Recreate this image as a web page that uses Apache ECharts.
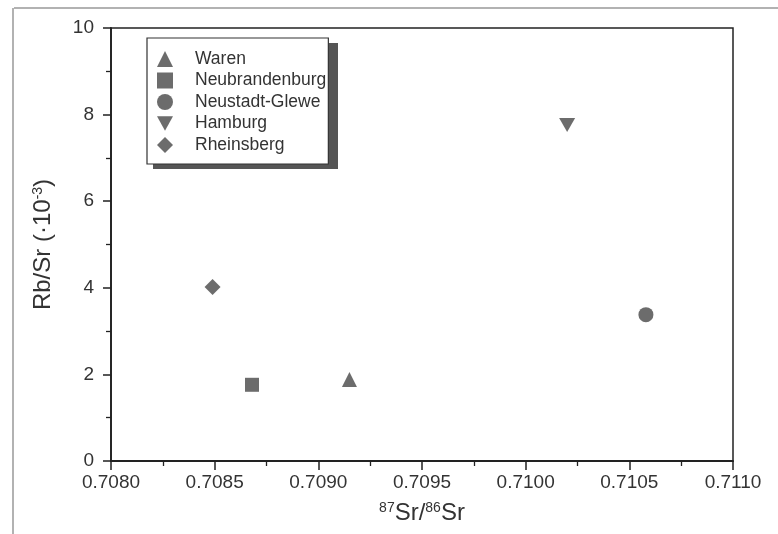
<!DOCTYPE html>
<html><head><meta charset="utf-8">
<script src="https://cdn.jsdelivr.net/npm/echarts@6/dist/echarts.min.js"></script>
<style>html,body{margin:0;padding:0;background:#fff}#c{width:778px;height:534px}</style>
</head><body><div id="c"></div>
<script>
const seriesNames = ['Waren', 'Neubrandenburg', 'Neustadt-Glewe', 'Hamburg', 'Rheinsberg'];
const srRatio = [0.70915, 0.70868, 0.71058, 0.71020, 0.70849];
const rbSr = [1.88, 1.76, 3.38, 7.76, 4.02];
const symbols = ['triangle', 'rect', 'circle', 'path://M0,0 L10,0 L5,9 Z', 'diamond'];
const symbolSizes = [15, 14, 15, [16, 14], 16];
const xTicks = ['0.7080','0.7085','0.7090','0.7095','0.7100','0.7105','0.7110'];
const yTicks = [0, 2, 4, 6, 8, 10];

const chart = echarts.init(document.getElementById('c'));
const font = 'Liberation Sans, Arial, sans-serif';
const markColor = '#474747';
const series = seriesNames.map((n, i) => ({
  name: n, type: 'scatter', symbol: symbols[i], symbolSize: symbolSizes[i],
  itemStyle: { color: markColor }, data: [[srRatio[i], rbSr[i]]], z: 3
}));
const supStyle = { fontSize: 14, color: '#333', verticalAlign: 'top', padding: [0, 0, 10, 0], fontFamily: font };
chart.setOption({
  animation: false,
  textStyle: { fontFamily: font },
  grid: { left: 111, right: 45, top: 28, bottom: 73, show: true, borderColor: '#222', borderWidth: 1.5 },
  xAxis: {
    type: 'value', min: 0.7080, max: 0.7110, interval: 0.0005,
    axisLine: { lineStyle: { color: '#222', width: 1.8 } },
    axisTick: { inside: false, length: 9, lineStyle: { color: '#222', width: 1.5 } },
    minorTick: { show: true, splitNumber: 2, length: 5, lineStyle: { color: '#222', width: 1.3 } },
    splitLine: { show: false },
    axisLabel: { color: '#333', fontSize: 19, margin: 12, formatter: v => xTicks[Math.round((v - 0.7080) / 0.0005)] },
    name: '{sup|87}{m|Sr/}{sup|86}{m|Sr}', nameLocation: 'middle', nameGap: 40,
    nameTextStyle: { rich: { m: { fontSize: 24, color: '#333', fontFamily: font }, sup: supStyle } }
  },
  yAxis: {
    type: 'value', min: 0, max: 10, interval: 2,
    axisLine: { lineStyle: { color: '#222', width: 1.8 } },
    axisTick: { inside: false, length: 8, lineStyle: { color: '#222', width: 1.5 } },
    minorTick: { show: true, splitNumber: 2, length: 5, lineStyle: { color: '#222', width: 1.3 } },
    splitLine: { show: false },
    axisLabel: { color: '#333', fontSize: 19, margin: 17, formatter: v => String(yTicks[yTicks.indexOf(v)]) },
    name: '{m|Rb/Sr (·10}{sup|-3}{m|)}', nameLocation: 'middle', nameGap: 56, nameRotate: 90,
    nameTextStyle: { rich: { m: { fontSize: 24, color: '#333', fontFamily: font }, sup: supStyle } }
  },
  legend: {
    orient: 'vertical', left: 147, top: 38, padding: [12, 2, 10, 10],
    backgroundColor: '#fff', borderColor: '#333', borderWidth: 1.2,
    itemWidth: 16, itemHeight: 16, itemGap: 3.5,
    textStyle: { fontSize: 17.5, color: '#333', fontFamily: font, padding: [0, 0, 0, 17] },
    data: seriesNames.map((n, i) => ({ name: n, icon: symbols[i], itemStyle: { color: markColor } }))
  },
  graphic: [
    { type: 'rect', z: 3, shape: { x: 153, y: 43, width: 185, height: 126 }, style: { fill: '#555' } },
    { type: 'line', shape: { x1: 14, y1: 8, x2: 778, y2: 8 }, style: { stroke: '#999', lineWidth: 1.5 } },
    { type: 'line', shape: { x1: 13, y1: 8, x2: 13, y2: 534 }, style: { stroke: '#999', lineWidth: 1.5 } }
  ],
  series: series
});
</script></body></html>
